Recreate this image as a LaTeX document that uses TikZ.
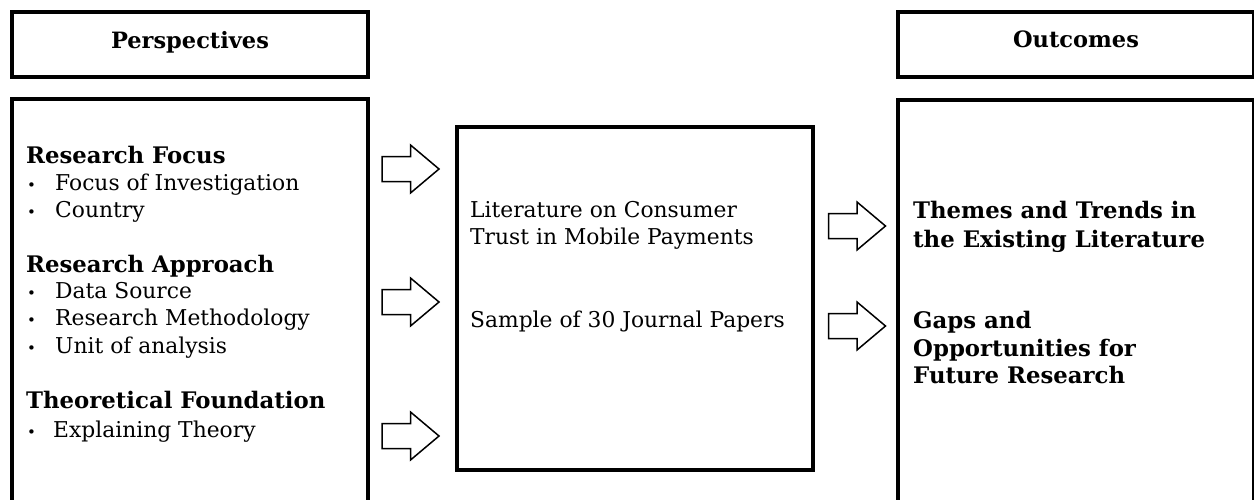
\documentclass[tikz,border=0pt]{standalone}
\usepackage{fontspec}
\setmainfont{DejaVu Serif}
\begin{document}
\begin{tikzpicture}[x=1pt,y=-1pt,
  box/.style={draw, line width=4pt, inner sep=0pt, outer sep=0pt},
  blockarr/.pic={\draw[line width=1.5pt, line join=miter]
    (-28.5,-12.5) -- (0,-12.5) -- (0,-24) -- (28.5,0) -- (0,24) -- (0,12.5) -- (-28.5,12.5) -- cycle;},
  head/.style={font=\fontsize{22.5}{24}\selectfont\bfseries},
  hd/.style={anchor=base west, inner sep=0pt, font=\fontsize{22.8}{24}\selectfont\bfseries},
  txt/.style={anchor=base west, inner sep=0pt, font=\fontsize{21.8}{24}\selectfont},
  bul/.style={anchor=base west, inner sep=0pt, font=\fontsize{15}{16}\selectfont}]
\useasboundingbox (0,0) rectangle (1254,499);
\clip (0,0) rectangle (1254,499);
% headers
\node[box, minimum width=356pt, minimum height=65pt] (persp) at (190,44.5) {};
\node[head, anchor=base] (persptxt) at (190,48) {Perspectives};
\node[box, minimum width=356pt, minimum height=65pt] (outc) at (1076,44.5) {};
\node[head, anchor=base] (outctxt) at (1076,47) {Outcomes};
% main boxes
\node[box, minimum width=356pt, minimum height=440pt, anchor=north west] (left) at (12,99) {};
\node[box, minimum width=356pt, minimum height=343pt, anchor=north west] (mid) at (457,127) {};
\node[box, minimum width=356pt, minimum height=440pt, anchor=north west] (right) at (898,100) {};
% left texts
\node[hd] (h1) at (26,163) {Research Focus};
\node[bul] (b1) at (27,190) {•};
\node[txt] (t1) at (55,190) {Focus of Investigation};
\node[bul] (b2) at (27,217) {•};
\node[txt] (t2) at (55,217) {Country};
\node[hd] (h2) at (26,272) {Research Approach};
\node[bul] (b3) at (27,298) {•};
\node[txt] (t3) at (55,298) {Data Source};
\node[bul] (b4) at (27,325) {•};
\node[txt] (t4) at (55,325) {Research Methodology};
\node[bul] (b5) at (27,353) {•};
\node[txt] (t5) at (55,353) {Unit of analysis};
\node[hd] (h3) at (26,408) {Theoretical Foundation};
\node[bul] (b6) at (27,437) {•};
\node[txt] (t6) at (53,437) {Explaining Theory};
% middle texts
\node[txt] (m1) at (470,217) {Literature on Consumer};
\node[txt] (m2) at (470,244) {Trust in Mobile Payments};
\node[txt] (m3) at (470,327) {Sample of 30 Journal Papers};
% right texts
\node[hd] (r1) at (913,218) {Themes and Trends in};
\node[hd] (r2) at (913,247) {the Existing Literature};
\node[hd] (r3) at (913,328) {Gaps and};
\node[hd] (r4) at (913,356) {Opportunities for};
\node[hd] (r5) at (913,383) {Future Research};
% arrows
\pic at (410.5,169) {blockarr};
\pic at (410.5,302) {blockarr};
\pic at (410.5,436) {blockarr};
\pic at (857,226) {blockarr};
\pic at (857,326) {blockarr};
\end{tikzpicture}
\end{document}
